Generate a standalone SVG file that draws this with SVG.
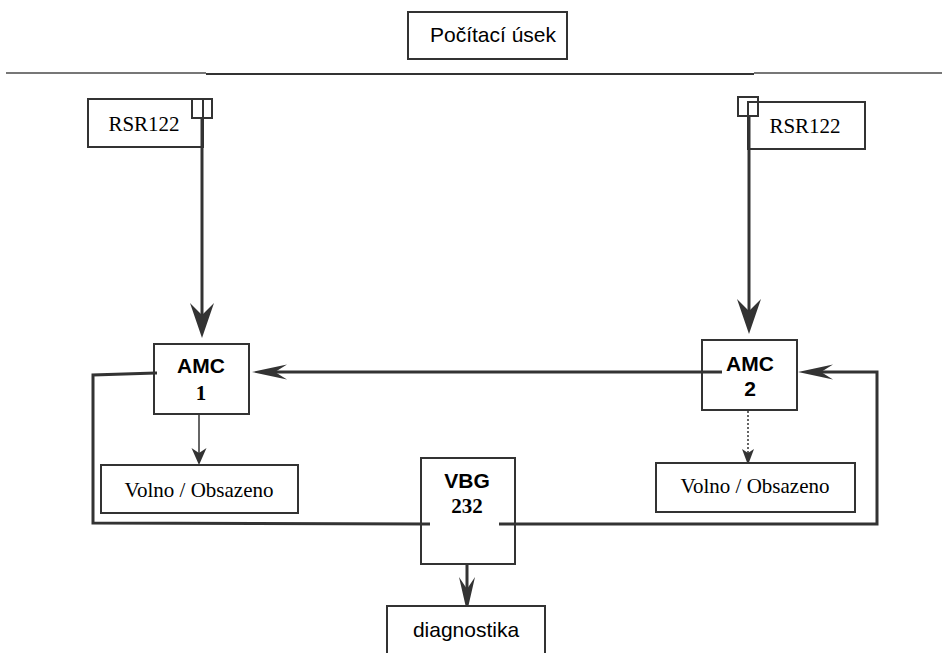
<svg xmlns="http://www.w3.org/2000/svg" width="945" height="653" viewBox="0 0 945 653">
<style>
.box{fill:#fff;stroke:#333;stroke-width:2}
.sq{fill:none;stroke:#333;stroke-width:2}
.sans{font-family:"Liberation Sans",Arial,sans-serif;font-size:21px;fill:#000}
.serif{font-family:"Liberation Serif","Times New Roman",serif;font-size:21px;fill:#000}
.b{font-weight:bold}
.thick{fill:none;stroke:#333;stroke-width:3}
.thin{fill:none;stroke:#333;stroke-width:1.5}
.dot{fill:none;stroke:#333;stroke-width:1.5;stroke-dasharray:2 2}
.ah{fill:#333;stroke:none}
</style>
<defs>
<marker id="big" markerUnits="userSpaceOnUse" markerWidth="35" markerHeight="24" viewBox="0 0 35 24" refX="12" refY="12" orient="auto" overflow="visible">
<path class="ah" d="M35,12 L0,0 L12,12 L0,24 Z"/>
</marker>
<marker id="mid" markerUnits="userSpaceOnUse" markerWidth="35" markerHeight="15" viewBox="0 0 35 15" refX="12" refY="7.5" orient="auto" overflow="visible">
<path class="ah" d="M35,7.5 L0,0 L12,7.5 L0,15 Z"/>
</marker>
<marker id="down" markerUnits="userSpaceOnUse" markerWidth="35" markerHeight="16" viewBox="0 0 35 16" refX="12" refY="8" orient="auto" overflow="visible">
<path class="ah" d="M35,8 L0,0 L12,8 L0,16 Z"/>
</marker>
<marker id="small" markerUnits="userSpaceOnUse" markerWidth="17" markerHeight="15" viewBox="0 0 17 15" refX="5" refY="7.5" orient="auto" overflow="visible">
<path class="ah" d="M17,7.5 L0,0 L5,7.5 L0,15 Z"/>
</marker>
<marker id="smalld" markerUnits="userSpaceOnUse" markerWidth="16" markerHeight="12" viewBox="0 0 16 12" refX="4" refY="6" orient="auto" overflow="visible">
<path class="ah" d="M16,6 L0,0 L4,6 L0,12 Z"/>
</marker>
</defs>

<g id="divider">
<line x1="6" y1="73" x2="206" y2="73" stroke="#777" stroke-width="2"/>
<line x1="206" y1="74" x2="754" y2="74" stroke="#333" stroke-width="2"/>
<line x1="754" y1="73" x2="942" y2="73" stroke="#777" stroke-width="2"/>
</g>

<g id="connectors">
<line class="thick" x1="202" y1="120" x2="202" y2="315" marker-end="url(#big)"/>
<line class="thick" x1="749" y1="116" x2="749" y2="311" marker-end="url(#big)"/>
<line class="thick" x1="722" y1="372" x2="275" y2="372" marker-end="url(#mid)"/>
<polyline class="thick" points="499,524 877,524 877,372 821,372" marker-end="url(#mid)"/>
<polyline class="thick" points="156,373 93,375 93,523 430,524"/>
<line class="thick" x1="467" y1="564" x2="467" y2="589" marker-end="url(#down)"/>
<line class="thin" x1="199" y1="414" x2="199" y2="453" marker-end="url(#small)"/>
<line class="dot" x1="748" y1="411" x2="748" y2="453" marker-end="url(#smalld)"/>
</g>

<g id="pocitaci-usek">
<rect class="box" x="408" y="12" width="159" height="47"/>
<text class="sans" x="493" y="42" text-anchor="middle">Počítací úsek</text>
</g>

<g id="rsr122-left">
<rect class="box" x="88" y="99" width="115" height="48"/>
<text class="serif" x="144" y="131" text-anchor="middle">RSR122</text>
<rect class="sq" x="192" y="99" width="20" height="19"/>
<line class="thick" x1="202" y1="118" x2="202" y2="147"/>
</g>

<g id="rsr122-right">
<rect class="box" x="748" y="102" width="117" height="47"/>
<text class="serif" x="805" y="133" text-anchor="middle">RSR122</text>
<rect class="sq" x="738" y="97" width="20" height="19"/>
<line class="thick" x1="749" y1="116" x2="749" y2="149"/>
</g>

<g id="amc1">
<rect class="box" x="154" y="344" width="95" height="70"/>
<line class="thick" x1="154" y1="373" x2="157" y2="373"/>
<text class="sans b" x="201" y="373" text-anchor="middle">AMC</text>
<text class="serif b" x="201" y="400" text-anchor="middle">1</text>
</g>

<g id="amc2">
<rect class="box" x="702" y="340" width="95" height="70"/>
<line class="thick" x1="702" y1="372" x2="722" y2="372"/>
<text class="sans b" x="750" y="371" text-anchor="middle">AMC</text>
<text class="sans b" x="750" y="396" text-anchor="middle">2</text>
</g>

<g id="volno-left">
<rect class="box" x="101" y="465" width="197" height="48"/>
<text class="serif" x="199" y="497" text-anchor="middle">Volno / Obsazeno</text>
</g>

<g id="volno-right">
<rect class="box" x="656" y="463" width="199" height="49"/>
<text class="serif" x="755" y="493" text-anchor="middle">Volno / Obsazeno</text>
</g>

<g id="vbg232">
<rect class="box" x="421" y="458" width="94" height="106"/>
<line class="thick" x1="421" y1="524" x2="430" y2="524"/>
<line class="thick" x1="499" y1="524" x2="515" y2="524"/>
<text class="sans b" x="467" y="488" text-anchor="middle">VBG</text>
<text class="serif b" x="467" y="513" text-anchor="middle">232</text>
</g>

<g id="diagnostika">
<rect class="box" x="387" y="606" width="158" height="60"/>
<text class="sans" x="466" y="637" text-anchor="middle">diagnostika</text>
</g>
</svg>
